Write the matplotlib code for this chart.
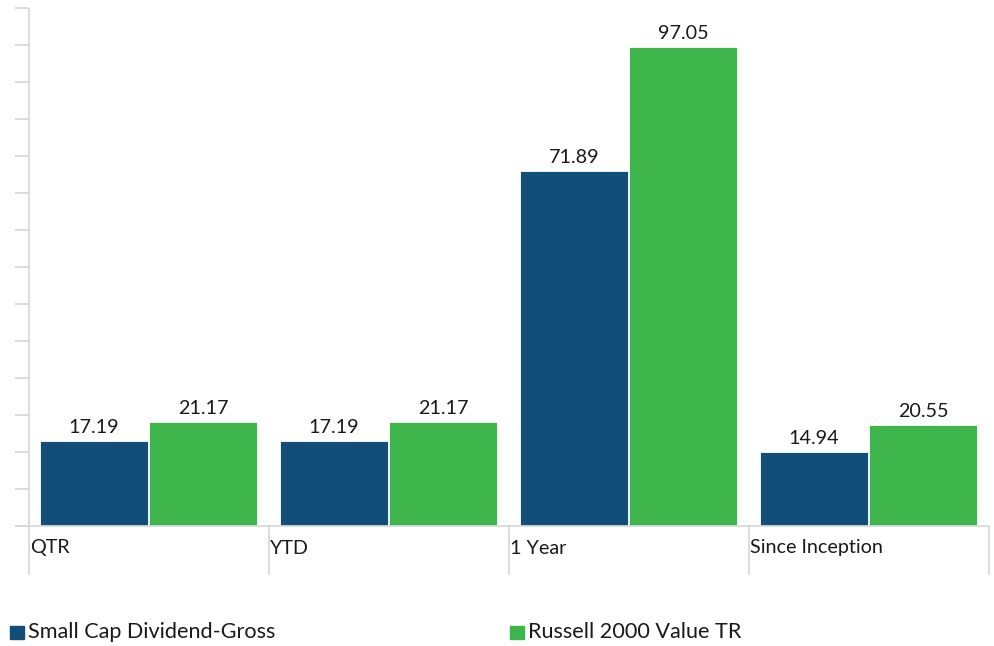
import matplotlib
matplotlib.use("Agg")
import matplotlib.pyplot as plt
from matplotlib.patches import Rectangle
import matplotlib.transforms as mtransforms

categories = ["QTR", "YTD", "1 Year", "Since Inception"]
series_names = ["Small Cap Dividend-Gross", "Russell 2000 Value TR"]
fund = [17.19, 17.19, 71.89, 14.94]
bench = [21.17, 21.17, 97.05, 20.55]
colors = ["#114F79", "#3EB54B"]

plt.rcParams['font.family'] = ['Lato', 'DejaVu Sans']

W, H = 994, 646
fig = plt.figure(figsize=(W / 100, H / 100), dpi=100)
ax = fig.add_axes([29 / W, 120 / H, 960 / W, 518 / H])
ax.set_xlim(0, 4)
ax.set_ylim(0, 105)

grid_c = "#d9d9d9"
txt_c = "#1a1a1a"
bw = 0.45
for i in range(len(categories)):
    for j, vals in enumerate([fund, bench]):
        x0 = i + 0.046 + j * (bw + 0.004)
        ax.bar(x0, vals[i], width=bw, align='edge', color=colors[j],
               edgecolor='white', linewidth=0.6, zorder=2)
        ax.text(x0 + bw / 2, vals[i] + 1.0, f"{vals[i]:.2f}", ha='center',
                va='bottom', fontsize=14.2, color=txt_c)

for s in ['top', 'right', 'bottom', 'left']:
    ax.spines[s].set_visible(False)
ax.set_xticks([])
ax.set_yticks([])

tr = mtransforms.blended_transform_factory(ax.transData, ax.transAxes)
below = -49 / 518
# vertical separators (including left axis line)
for k in range(len(categories) + 1):
    top = 1.0 if k == 0 else 0.0
    ax.plot([k, k], [below, top], transform=tr, color=grid_c, lw=1.3,
            clip_on=False, zorder=1, solid_capstyle='butt')
# baseline
ax.plot([-14 / 240, 4], [0, 0], transform=tr, color=grid_c, lw=1.3,
        clip_on=False, zorder=3, solid_capstyle='butt')
# left tick marks
for v in [7.5 * k for k in range(15)]:
    ax.plot([-14 / 240, 0], [v, v], color=grid_c, lw=1.3, clip_on=False,
            solid_capstyle='butt')

for i, c in enumerate(categories):
    ax.text(i + 1 / 240, -22 / 518, c, transform=tr, ha='left', va='center',
            fontsize=14.2, color=txt_c)

# legend
for j, name in enumerate(series_names):
    lx = [10, 510][j]
    fig.patches.append(Rectangle((lx / W, (646 - 639) / H), 14 / W, 13 / H,
                                 transform=fig.transFigure, color=colors[j]))
    fig.text((lx + 18) / W, (646 - 632) / H, name, ha='left', va='center',
             fontsize=15.6, color=txt_c)

fig.savefig("out.png", dpi=100)
